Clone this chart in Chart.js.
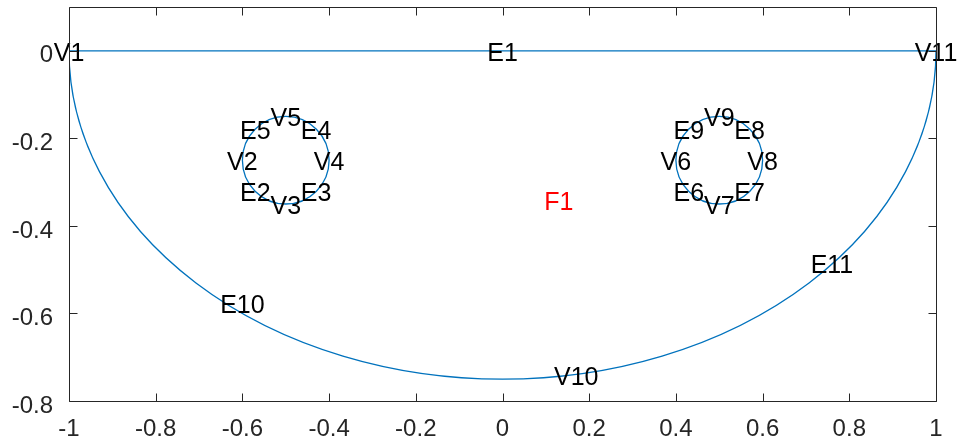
<!DOCTYPE html>
<html>
<head>
<meta charset="utf-8">
<script src="https://cdn.jsdelivr.net/npm/chart.js@4"></script>
<style>
  html, body { margin: 0; padding: 0; background: #fff; }
  #wrap { width: 961px; height: 445px; }
</style>
</head>
<body>
<div id="wrap"><canvas id="chart"></canvas></div>
<script>
// axis ticks
const xTicks = [-1, -0.8, -0.6, -0.4, -0.2, 0, 0.2, 0.4, 0.6, 0.8, 1];
const yTicks = [-0.8, -0.6, -0.4, -0.2, 0];

// straight edge E1 (top side)
const topEdgeX = [-1, 1];
const topEdgeY = [0, 0];

// curved boundaries: centre x, centre y, radius x, radius y, start angle, end angle (degrees)
const arcCx = [0, -0.5, 0.5];
const arcCy = [0, -0.25, -0.25];
const arcRx = [1, 0.1, 0.1];
const arcRy = [0.75, 0.1, 0.1];
const arcFrom = [180, 0, 0];
const arcTo = [360, 360, 360];

// vertex labels
const vertexNames = ['V1', 'V2', 'V3', 'V4', 'V5', 'V6', 'V7', 'V8', 'V9', 'V10', 'V11'];
const vertexX = [-1, -0.6, -0.5, -0.4, -0.5, 0.4, 0.5, 0.6, 0.5, 0.17, 1];
const vertexY = [0, -0.25, -0.35, -0.25, -0.15, -0.25, -0.35, -0.25, -0.15, -0.74, 0];

// edge labels
const edgeNames = ['E1', 'E2', 'E3', 'E4', 'E5', 'E6', 'E7', 'E8', 'E9', 'E10', 'E11'];
const edgeX = [0, -0.57, -0.43, -0.43, -0.57, 0.43, 0.57, 0.57, 0.43, -0.6, 0.76];
const edgeY = [0, -0.32, -0.32, -0.18, -0.18, -0.32, -0.32, -0.18, -0.18, -0.577, -0.485];

// face label
const faceNames = ['F1'];
const faceX = [0.13];
const faceY = [-0.34];

const lineColor = '#0072BD';
const axisColor = '#262626';
const fontFamily = "'Liberation Sans', Arial, sans-serif";

const geometryPlugin = {
    id: 'geometry',
    beforeDatasetsDraw(chart) {
        const ctx = chart.ctx;
        const xs = chart.scales.x;
        const ys = chart.scales.y;
        const area = chart.chartArea;
        ctx.save();
        ctx.beginPath();
        ctx.rect(area.left, area.top, area.right - area.left, area.bottom - area.top);
        ctx.clip();
        ctx.strokeStyle = lineColor;
        ctx.lineWidth = 1.3;
        for (let i = 0; i < arcCx.length; i++) {
            const cx = xs.getPixelForValue(arcCx[i]);
            const cy = ys.getPixelForValue(arcCy[i]);
            const rx = Math.abs(xs.getPixelForValue(arcCx[i] + arcRx[i]) - cx);
            const ry = Math.abs(ys.getPixelForValue(arcCy[i] + arcRy[i]) - cy);
            // canvas angles run clockwise on screen; data angles run counter-clockwise
            ctx.beginPath();
            ctx.ellipse(cx, cy, rx, ry, 0, -arcTo[i] * Math.PI / 180, -arcFrom[i] * Math.PI / 180);
            ctx.stroke();
        }
        ctx.restore();
    },
    afterDatasetsDraw(chart) {
        const ctx = chart.ctx;
        const xs = chart.scales.x;
        const ys = chart.scales.y;
        ctx.save();
        ctx.font = '25px ' + fontFamily;
        ctx.textAlign = 'center';
        ctx.textBaseline = 'middle';
        const put = (names, px, py, color) => {
            ctx.fillStyle = color;
            names.forEach((n, i) => {
                ctx.fillText(n, xs.getPixelForValue(px[i]), ys.getPixelForValue(py[i]) + 3);
            });
        };
        put(vertexNames, vertexX, vertexY, '#000');
        put(edgeNames, edgeX, edgeY, '#000');
        put(faceNames, faceX, faceY, '#ff0000');
        ctx.restore();
    },
    afterDraw(chart) {
        // box and inward ticks on all four sides
        const ctx = chart.ctx;
        const xs = chart.scales.x;
        const ys = chart.scales.y;
        const a = chart.chartArea;
        const l = Math.round(a.left) + 0.5, r = Math.round(a.right) + 0.5;
        const t = Math.round(a.top) + 0.5, b = Math.round(a.bottom) + 0.5;
        const len = 8;
        ctx.save();
        ctx.strokeStyle = axisColor;
        ctx.lineWidth = 1;
        ctx.beginPath();
        ctx.moveTo(l, t); ctx.lineTo(r, t);
        ctx.moveTo(r, t); ctx.lineTo(r, b);
        ctx.moveTo(r, b); ctx.lineTo(l, b);
        ctx.moveTo(l, b); ctx.lineTo(l, t);
        xTicks.forEach(v => {
            const x = Math.round(xs.getPixelForValue(v)) + 0.5;
            ctx.moveTo(x, b); ctx.lineTo(x, b - len);
            ctx.moveTo(x, t); ctx.lineTo(x, t + len);
        });
        yTicks.forEach(v => {
            const y = Math.round(ys.getPixelForValue(v)) + 0.5;
            ctx.moveTo(l, y); ctx.lineTo(l + len, y);
            ctx.moveTo(r, y); ctx.lineTo(r - len, y);
        });
        ctx.stroke();
        ctx.restore();
    }
};

const ctx = document.getElementById('chart').getContext('2d');
new Chart(ctx, {
    type: 'scatter',
    data: {
        datasets: [{
            data: topEdgeX.map((x, i) => ({ x: x, y: topEdgeY[i] })),
            showLine: true,
            borderColor: lineColor,
            borderWidth: 1.3,
            pointRadius: 0,
            fill: false
        }]
    },
    options: {
        responsive: true,
        maintainAspectRatio: false,
        animation: false,
        layout: { padding: { left: 0, right: 25, top: 7, bottom: 0 } },
        plugins: {
            legend: { display: false },
            tooltip: { enabled: false }
        },
        scales: {
            x: {
                type: 'linear',
                min: -1,
                max: 1,
                afterBuildTicks: s => { s.ticks = xTicks.map(v => ({ value: v })); },
                afterFit: s => { s.height = 44; s.paddingLeft = 0; s.paddingRight = 0; },
                border: { display: false },
                grid: { display: false },
                ticks: {
                    color: axisColor,
                    font: { family: fontFamily, size: 24 },
                    padding: 6,
                    maxRotation: 0,
                    callback: v => String(v)
                }
            },
            y: {
                type: 'linear',
                min: -0.8,
                max: 0.1,
                afterBuildTicks: s => { s.ticks = yTicks.map(v => ({ value: v })); },
                afterFit: s => { s.width = 69; s.paddingTop = 0; s.paddingBottom = 0; },
                border: { display: false },
                grid: { display: false },
                ticks: {
                    color: axisColor,
                    font: { family: fontFamily, size: 24 },
                    padding: 8,
                    labelOffset: 5,
                    callback: v => String(v)
                }
            }
        }
    },
    plugins: [geometryPlugin]
});
</script>
</body>
</html>
